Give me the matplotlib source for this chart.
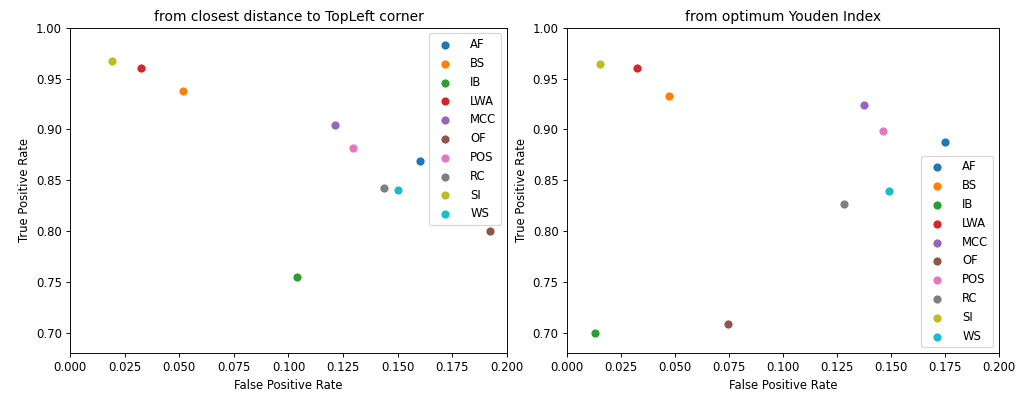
import numpy as np
import matplotlib
matplotlib.use("Agg")
import matplotlib.pyplot as plt

methods = ["AF", "BS", "IB", "LWA", "MCC", "OF", "POS", "RC", "SI", "WS"]

# operating points picked by the closest distance to the (0, 1) corner
fpr_topleft = [0.1601, 0.0515, 0.1040, 0.0326, 0.1213, 0.1922, 0.1297, 0.1439, 0.0194, 0.1503]
tpr_topleft = [0.8691, 0.9375, 0.7546, 0.9600, 0.9038, 0.7998, 0.8812, 0.8420, 0.9670, 0.8403]

# operating points picked by the maximum Youden index
fpr_youden = [0.1750, 0.0472, 0.0133, 0.0326, 0.1375, 0.0745, 0.1463, 0.1281, 0.0156, 0.1491]
tpr_youden = [0.8875, 0.9333, 0.7000, 0.9601, 0.9238, 0.7088, 0.8986, 0.8269, 0.9647, 0.8397]

colors = plt.get_cmap("tab10").colors

DPI = 83.5
fig = plt.figure(figsize=(1029 / DPI, 394 / DPI), dpi=DPI)
ax1 = fig.add_axes([0.068, 0.104, 0.4247, 0.8257])
ax2 = fig.add_axes([0.5507, 0.104, 0.4201, 0.8257])


def draw(ax, fpr, tpr, title, loc):
    for i, m in enumerate(methods):
        ax.scatter(fpr[i], tpr[i], s=62, color=colors[i], edgecolors="white",
                   linewidths=0.75, label=m, zorder=3)
    ax.set_xlim(0, 0.2)
    ax.set_ylim(0.68, 1.0)
    xt = np.arange(0, 0.2001, 0.025)
    yt = np.arange(0.70, 1.0001, 0.05)
    ax.set_xticks(xt)
    ax.set_yticks(yt)
    ax.set_xticklabels(["%.3f" % v for v in xt])
    ax.set_yticklabels(["%.2f" % v for v in yt])
    ax.set_xlabel("False Positive Rate")
    ax.set_ylabel("True Positive Rate")
    ax.set_title(title)
    ax.legend(loc=loc, handletextpad=1.2)


draw(ax1, fpr_topleft, tpr_topleft, "from closest distance to TopLeft corner", "upper right")
draw(ax2, fpr_youden, tpr_youden, "from optimum Youden Index", "lower right")

fig.savefig("out.png", dpi=DPI)
